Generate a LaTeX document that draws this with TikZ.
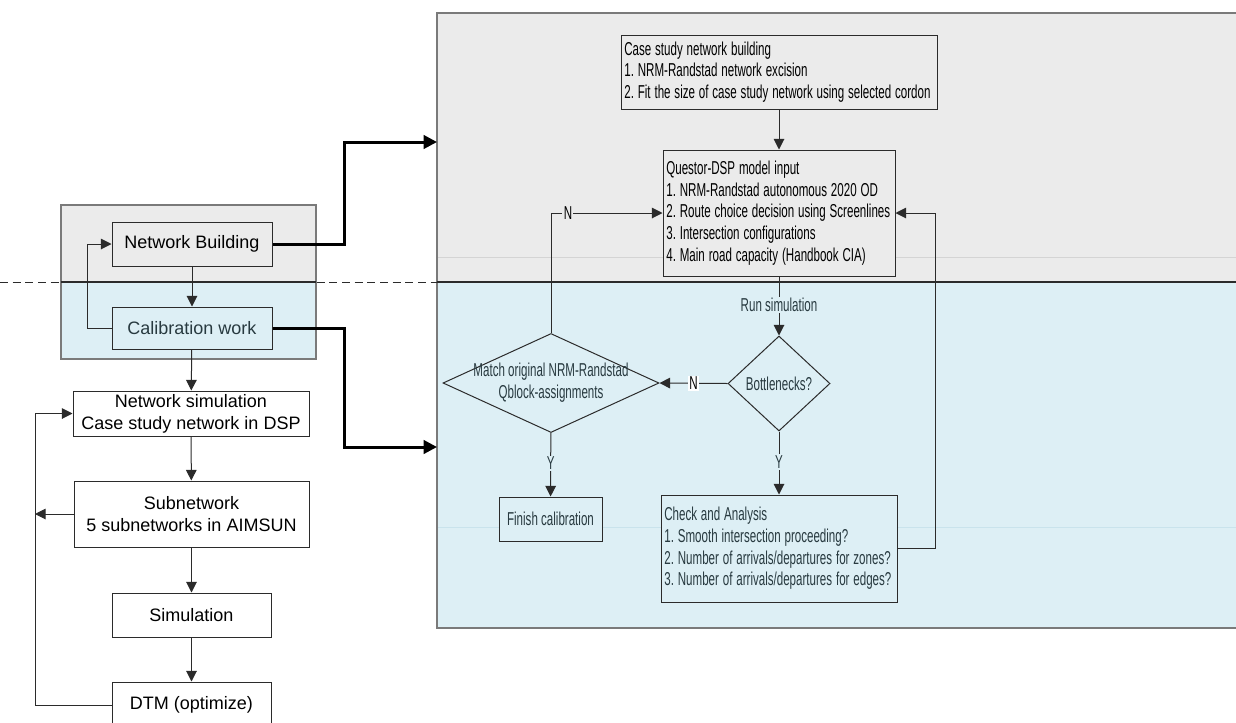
\documentclass[tikz,border=0pt]{standalone}
\usepackage{fontspec}
\usepackage{graphicx}
\setmainfont{Liberation Sans}
\frenchspacing
\usetikzlibrary{shapes.geometric,arrows.meta}

\definecolor{panelgray}{HTML}{EBEBEB}
\definecolor{panelblue}{HTML}{DDEFF5}
\definecolor{ink}{HTML}{2B2B2B}
\definecolor{blueink}{HTML}{283A40}
\definecolor{framegray}{HTML}{7A7A7A}
\definecolor{faintgray}{HTML}{D4D4D4}
\definecolor{faintblue}{HTML}{C9E3EC}

% condensed lettering used in the detail panel
\newcommand{\nw}[1]{\scalebox{0.62}[1]{#1}}

\begin{document}
\begin{tikzpicture}[x=0.75pt,y=-0.75pt,
  every node/.style={font=\fontsize{13.5pt}{16.3pt}\selectfont},
  box/.style={draw=ink, line width=0.75pt, rectangle, inner sep=0pt, align=center},
  nfont/.style={font=\fontsize{14pt}{16.3pt}\selectfont},
  nbox/.style={draw=ink, line width=0.75pt, rectangle, inner xsep=2.5pt, inner ysep=0pt,
    align=left, nfont},
  decision/.style={draw=ink, line width=0.75pt, diamond, inner sep=0pt},
  dtext/.style={nfont, align=center, text=blueink},
  lbl/.style={nfont, inner sep=1pt},
  arr/.style={draw=ink, line width=0.75pt, -{Triangle[length=8pt,width=8pt]}},
  bigarr/.style={draw=black, line width=2.25pt, -{Triangle[length=10pt,width=10pt]}}
]
\useasboundingbox (0,0) rectangle (1236,722);

% ---- background panels ----
\fill[panelgray] (61,205) rectangle (316,282);
\fill[panelblue] (61,282) rectangle (316,359);
\fill[panelgray] (437,13) rectangle (1240,282);
\fill[panelblue] (437,282) rectangle (1240,628);
\draw[faintgray, line width=0.6pt] (437,257) -- (1240,257);
\draw[faintblue, line width=0.6pt] (437,527) -- (1240,527);
\draw[framegray, line width=1pt] (61,205) rectangle (316,359);
\draw[framegray, line width=1.1pt] (437,13) rectangle (1240,628);
\draw[ink, line width=0.75pt, dash pattern=on 6pt off 3.5pt] (0,282) -- (1236,282);
\draw[ink, line width=1.5pt] (61,282) -- (316,282);
\draw[ink, line width=1.5pt] (437,282) -- (1240,282);

% ---- left column ----
\node[box, fill=panelgray, minimum width=120pt, minimum height=33pt] (nb) at (192,244) {Network Building};
\node[box, fill=panelblue, text=blueink, minimum width=120pt, minimum height=31.5pt] (cw) at (192,328) {Calibration work};
\node[box, fill=white, minimum width=177pt, minimum height=33.75pt] (ns) at (191,413.5) {Network simulation\\Case study network in DSP};
\node[box, fill=white, minimum width=176.25pt, minimum height=49.5pt] (sub) at (191.5,514) {Subnetwork\\5 subnetworks in AIMSUN};
\node[box, fill=white, minimum width=119.25pt, minimum height=33pt] (sim) at (191.5,615) {Simulation};
\node[box, fill=white, minimum width=119.25pt, minimum height=34.5pt] (dtm) at (191.5,705) {DTM (optimize)};

\coordinate (loopx) at (35,0);
\draw[arr] (nb) -- (cw);
\draw[arr] (cw.west) -- ++(-24,0) |- (nb.west);
\draw[arr] (cw) -- (ns);
\draw[arr] (ns) -- (sub);
\draw[arr] (sub) -- (sim);
\draw[arr] (sim) -- (dtm);
\draw[arr] (dtm.west) -- (dtm.west -| loopx) |- (ns.west);
\draw[arr] (sub.west) -- (sub.west -| loopx);

% ---- links into the detail panel ----
\coordinate (inTop) at (437,142);
\coordinate (inBot) at (437,447);
\draw[bigarr] (nb.east) -- ++(72,0) |- (inTop);
\draw[bigarr] (cw.east) -- ++(72,0) |- (inBot);

% ---- detail panel ----
\node[nbox, fill=panelgray, text width=232pt, minimum height=55.5pt] (case) at (779,72)
  {\nw{Case study network building}\\\nw{1. NRM-Randstad network excision}\\\nw{2. Fit the size of case study network using selected cordon}};
\node[nbox, fill=panelgray, text width=169pt, minimum height=94.5pt] (questor) at (779,213)
  {\nw{Questor-DSP model input}\\\nw{1. NRM-Randstad autonomous 2020 OD}\\\nw{2. Route choice decision using Screenlines}\\\nw{3. Intersection configurations}\\\nw{4. Main road capacity (Handbook CIA)}};
\node[decision, fill=panelblue, minimum width=162pt, minimum height=74.25pt,
  label={[dtext]center:\nw{Match original NRM-Randstad}\\\nw{Qblock-assignments}}] (match) at (551,383) {};
\node[decision, fill=panelblue, minimum width=76.5pt, minimum height=71.25pt,
  label={[dtext]center:\nw{Bottlenecks?}}] (bott) at (779,383.5) {};
\node[box, nfont, fill=panelblue, text=blueink, minimum width=77.25pt, minimum height=33pt] (finish) at (550.5,519) {\nw{Finish calibration}};
\node[nbox, fill=panelblue, text=blueink, text width=172pt, minimum height=80.25pt] (check) at (779,548.5)
  {\nw{Check and Analysis}\\\nw{1. Smooth intersection proceeding?}\\\nw{2. Number of arrivals/departures for zones?}\\\nw{3. Number of arrivals/departures for edges?}};

\draw[arr] (case) -- (questor);
\draw[arr] (questor) -- node[lbl, fill=panelblue, text=blueink, pos=0.48] {\nw{Run simulation}} (bott);
\draw[arr] (bott.west) -- node[lbl, fill=white, text=black] {\nw{N}} (match.east);
\draw[arr] (bott) -- node[lbl, fill=panelblue, text=blueink, pos=0.48] {\nw{Y}} (check);
\draw[arr] (match) -- node[lbl, fill=panelblue, text=blueink, pos=0.48] {\nw{Y}} (finish);
\draw[arr] (match.north) |- node[lbl, fill=panelgray, pos=0.576] {\nw{N}} (questor.west);
\draw[arr] (check.east) -- ++(38,0) |- (questor.east);
\end{tikzpicture}
\end{document}
